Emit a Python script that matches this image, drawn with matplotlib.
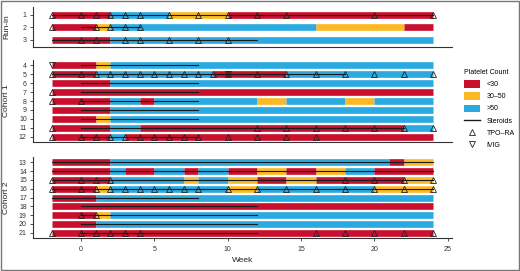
import matplotlib
matplotlib.use("Agg")
import matplotlib.pyplot as plt
from matplotlib.lines import Line2D
from matplotlib.patches import Patch, Rectangle

plt.rcParams['font.family'] = ['Liberation Sans Narrow', 'Liberation Sans', 'DejaVu Sans']

# platelet category changes per patient: (start week, category), each runs to next start / week 24
platelet = {
    1: [(-2, '<30'), (2, '>50'), (6, '30-50'), (10, '<30')],
    2: [(-2, '<30'), (1, '30-50'), (2, '>50'), (16, '30-50'), (22, '<30')],
    3: [(-2, '<30'), (2, '>50')],
    4: [(-2, '<30'), (1, '30-50'), (2, '>50')],
    5: [(-2, '<30'), (1, '>50'), (9, '<30'), (14, '>50')],
    6: [(-2, '<30'), (2, '>50')],
    7: [(-2, '<30')],
    8: [(-2, '<30'), (2, '>50'), (4, '<30'), (5, '>50'), (12, '30-50'), (14, '>50'), (18, '30-50'), (20, '>50')],
    9: [(-2, '<30'), (2, '>50')],
    10: [(-2, '<30'), (1, '30-50'), (2, '>50')],
    11: [(-2, '<30'), (2, '>50'), (4, '<30'), (22, '>50')],
    12: [(-2, '<30'), (2, '>50'), (3, '<30')],
    13: [(-2, '<30'), (2, '>50'), (21, '<30'), (22, '30-50')],
    14: [(-2, '<30'), (2, '>50'), (3, '<30'), (5, '>50'), (7, '<30'), (8, '>50'), (10, '<30'), (12, '30-50'),
         (14, '<30'), (16, '30-50'), (18, '>50'), (20, '<30')],
    15: [(-2, '<30'), (2, '>50'), (7, '30-50'), (8, '>50'), (10, '30-50'), (12, '<30'), (14, '30-50'),
         (16, '<30'), (22, '30-50')],
    16: [(-2, '<30'), (1, '30-50'), (2, '>50'), (10, '30-50'), (12, '>50'), (20, '30-50')],
    17: [(-2, '<30'), (1, '>50')],
    18: [(-2, '<30')],
    19: [(-2, '<30'), (1, '30-50'), (2, '>50')],
    20: [(-2, '<30'), (1, '>50')],
    21: [(-2, '<30')],
}
end_week = 24

steroids = {
    1: (-2, 24), 2: (0, 4), 3: (-2, 12), 4: (0, 8), 5: (-2, 18), 6: (0, 8), 7: (0, 8), 8: (0, 8),
    9: (0, 8), 10: (0, 8), 11: (0, 22), 12: (0, 8), 13: (-2, 24), 14: (-2, 24), 15: (-2, 24),
    16: (-2, 24), 17: (-2, 8), 18: (0, 12), 19: (0, 12), 20: (0, 12), 21: (0, 12),
}

tpo = {
    1: [-2, 0, 1, 2, 3, 4, 6, 8, 10, 12, 14, 20, 24],
    2: [-2, 1, 2, 3, 4],
    3: [0, 1, 3, 4, 6, 8, 10],
    5: [-2, 0, 1, 2, 3, 4, 5, 6, 7, 8, 9, 10, 12, 14, 16, 18, 20, 22, 24],
    7: [-2],
    8: [-2, 0],
    11: [-2, 12, 14, 16, 18, 20, 22, 24],
    12: [-2, 0, 1, 2, 3, 4, 5, 6, 7, 8, 10, 12, 14, 16],
    15: [-2, 0, 1, 2, 18, 20, 22, 24],
    16: [-2, 0, 1, 2, 3, 4, 5, 6, 7, 8, 10, 12, 14, 16, 18, 20, 22, 24],
    19: [0, 1],
    21: [-2, 0, 1, 2, 3, 4, 16, 18, 20, 22, 24],
}
ivig = {4: [-2], 5: [10]}

cohorts = [('Run-in', [1, 2, 3]), ('Cohort 1', list(range(4, 13))), ('Cohort 2', list(range(13, 22)))]
colors = {'<30': '#C8102E', '30-50': '#FBBA25', '>50': '#2AAAE1'}
x_ticks = [0, 5, 10, 15, 20, 25]

fig = plt.figure(figsize=(5.2, 2.71), dpi=100)
W, H = 520, 271
# panel boxes in pixels: (top, bottom)
boxes = [(7, 47), (60, 142), (157, 238)]
left_px, right_px = 33, 452

axes = []
for (name, rows), (top, bot) in zip(cohorts, boxes):
    ax = fig.add_axes([left_px / W, (H - bot) / H, (right_px - left_px) / W, (bot - top) / H])
    for r in rows:
        segs = platelet[r]
        for i, (s, cat) in enumerate(segs):
            e = segs[i + 1][0] if i + 1 < len(segs) else end_week
            ax.plot([s, e], [r, r], color=colors[cat], lw=4.8, solid_capstyle='butt', zorder=1)
        if r in steroids:
            s, e = steroids[r]
            ax.plot([s, e], [r, r], color='#1a1a1a', lw=0.8, zorder=2)
        if r in tpo:
            ax.plot(tpo[r], [r] * len(tpo[r]), ls='none', marker='^', ms=4, mfc='none',
                    mec='#222222', mew=0.6, zorder=3)
        if r in ivig:
            ax.plot(ivig[r], [r] * len(ivig[r]), ls='none', marker='v', ms=4, mfc='none',
                    mec='#222222', mew=0.6, zorder=3)
    ax.set_xlim(-3.27, 25.3)
    ax.set_ylim(max(rows) + 0.6, min(rows) - 0.6)
    ax.set_yticks(rows)
    ax.set_yticklabels([str(r) for r in rows], fontsize=5, color='#333333')
    for sp in ['top', 'right']:
        ax.spines[sp].set_visible(False)
    for sp in ['left', 'bottom']:
        ax.spines[sp].set_color('#333333')
        ax.spines[sp].set_linewidth(0.8)
    ax.tick_params(axis='y', length=2.5, width=0.6, pad=2, color='#333333')
    ax.set_ylabel(name, fontsize=6, color='#222222')
    ax.yaxis.set_label_coords(-0.055, 0.5)
    axes.append(ax)

for ax in axes[:-1]:
    ax.set_xticks([])
axes[-1].set_xticks(x_ticks)
axes[-1].tick_params(axis='x', length=2.5, width=0.6, pad=3, labelsize=5, color='#333333', labelcolor='#333333')
axes[-1].set_xlabel('Week', fontsize=6, color='#222222', labelpad=3)

handles = [Patch(facecolor=colors['<30'], edgecolor='none'),
           Patch(facecolor=colors['30-50'], edgecolor='none'),
           Patch(facecolor=colors['>50'], edgecolor='none'),
           Line2D([0], [0], color='#1a1a1a', lw=1),
           Line2D([0], [0], ls='none', marker='^', ms=4, mfc='none', mec='#222222', mew=0.6),
           Line2D([0], [0], ls='none', marker='v', ms=4, mfc='none', mec='#222222', mew=0.6)]
labels = ['<30', '30\u201350', '>50', 'Steroids', 'TPO\u2013RA', 'IVIG']
leg = fig.legend(handles, labels, title='Platelet Count', loc='upper left',
                 bbox_to_anchor=(458 / W, 1 - 63 / H), frameon=False, fontsize=5, title_fontsize=5,
                 handlelength=2.2, handleheight=1.2, labelspacing=0.6, handletextpad=1.0)
leg._legend_box.align = 'left'

fig.patches.append(Rectangle((0.002, 0.004), 0.996, 0.992, transform=fig.transFigure,
                             fill=False, edgecolor='#777777', lw=1))

fig.savefig('out.png', dpi=100)
